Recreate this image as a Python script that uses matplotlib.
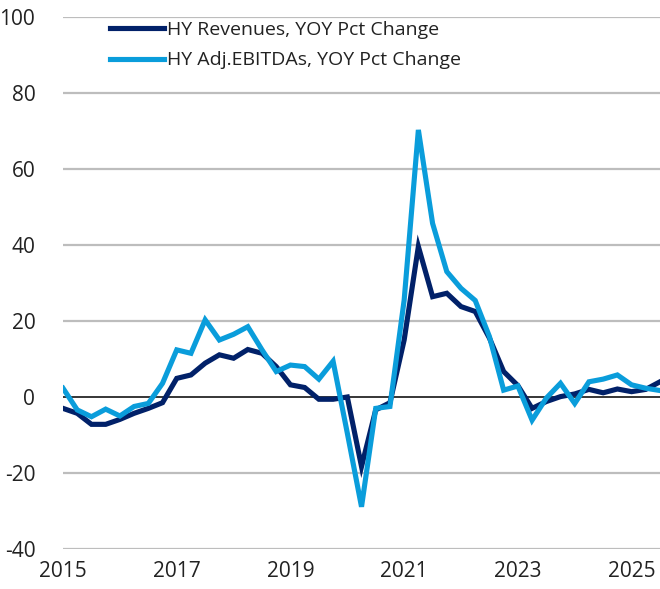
import matplotlib
matplotlib.use("Agg")
import matplotlib.pyplot as plt
import numpy as np

# quarterly, 2015 Q1 .. 2025 Q3
start_year = 2015
revenues = [-3.0, -4.3, -7.2, -7.2, -5.9, -4.3, -3.0, -1.5, 4.9, 5.8,
            8.9, 11.1, 10.2, 12.5, 11.5, 8.0, 3.2, 2.5, -0.6, -0.6,
            0.0, -18.3, -3.4, -1.5, 15.0, 39.6, 26.4, 27.3, 23.8, 22.5,
            15.5, 6.7, 3.0, -3.0, -1.2, 0.1, 0.8, 2.0, 1.1, 2.1,
            1.4, 2.0, 4.0]
ebitda = [2.3, -3.4, -5.2, -3.2, -5.0, -2.5, -1.7, 3.6, 12.4, 11.5,
          20.3, 15.0, 16.5, 18.5, 12.4, 6.7, 8.4, 8.0, 4.7, 9.4,
          -9.5, -28.9, -3.0, -2.5, 25.5, 70.3, 45.7, 33.0, 28.6, 25.4,
          15.9, 1.8, 2.9, -6.1, -0.3, 3.6, -1.7, 4.0, 4.7, 5.8,
          3.2, 2.3, 1.7]
labels = ["HY Revenues, YOY Pct Change", "HY Adj.EBITDAs, YOY Pct Change"]
year_ticks = [2015, 2017, 2019, 2021, 2023, 2025]
y_ticks = [-40, -20, 0, 20, 40, 60, 80, 100]

navy = "#012169"
sky = "#0A9DDB"

plt.rcParams['font.family'] = ['Open Sans', 'DejaVu Sans']
plt.rcParams['axes.unicode_minus'] = False

x = start_year + np.arange(len(revenues)) / 4.0

fig = plt.figure(figsize=(6.6, 5.89), dpi=100)
ax = fig.add_axes([0.0955, 0.068, 0.9045, 0.903])

for yv in y_ticks:
    if yv == 0:
        continue
    ax.axhline(yv, color="#BDBDBD", lw=1.6, zorder=1)
ax.axhline(0, color="black", lw=1.1, zorder=2)

ax.plot(x, revenues, color=navy, lw=3.7, label=labels[0], zorder=3,
        solid_joinstyle="miter")
ax.plot(x, ebitda, color=sky, lw=3.7, label=labels[1], zorder=4,
        solid_joinstyle="miter")

ax.set_xlim(start_year, x[-1])
ax.set_ylim(-40, 100)
ax.set_xticks(year_ticks)
ax.set_yticks(y_ticks)
ax.tick_params(length=0, labelsize=15, colors="#222222")
ax.tick_params(axis="y", pad=20)
ax.tick_params(axis="x", pad=9)
for s in ax.spines.values():
    s.set_visible(False)

leg = ax.legend(loc="upper left", bbox_to_anchor=(0.066, 1.008), frameon=False,
                fontsize=14, handlelength=2.75, handletextpad=0.15,
                labelspacing=0.66, borderaxespad=0)
for t in leg.get_texts():
    t.set_color("#222222")

fig.savefig("out.png", dpi=100)
